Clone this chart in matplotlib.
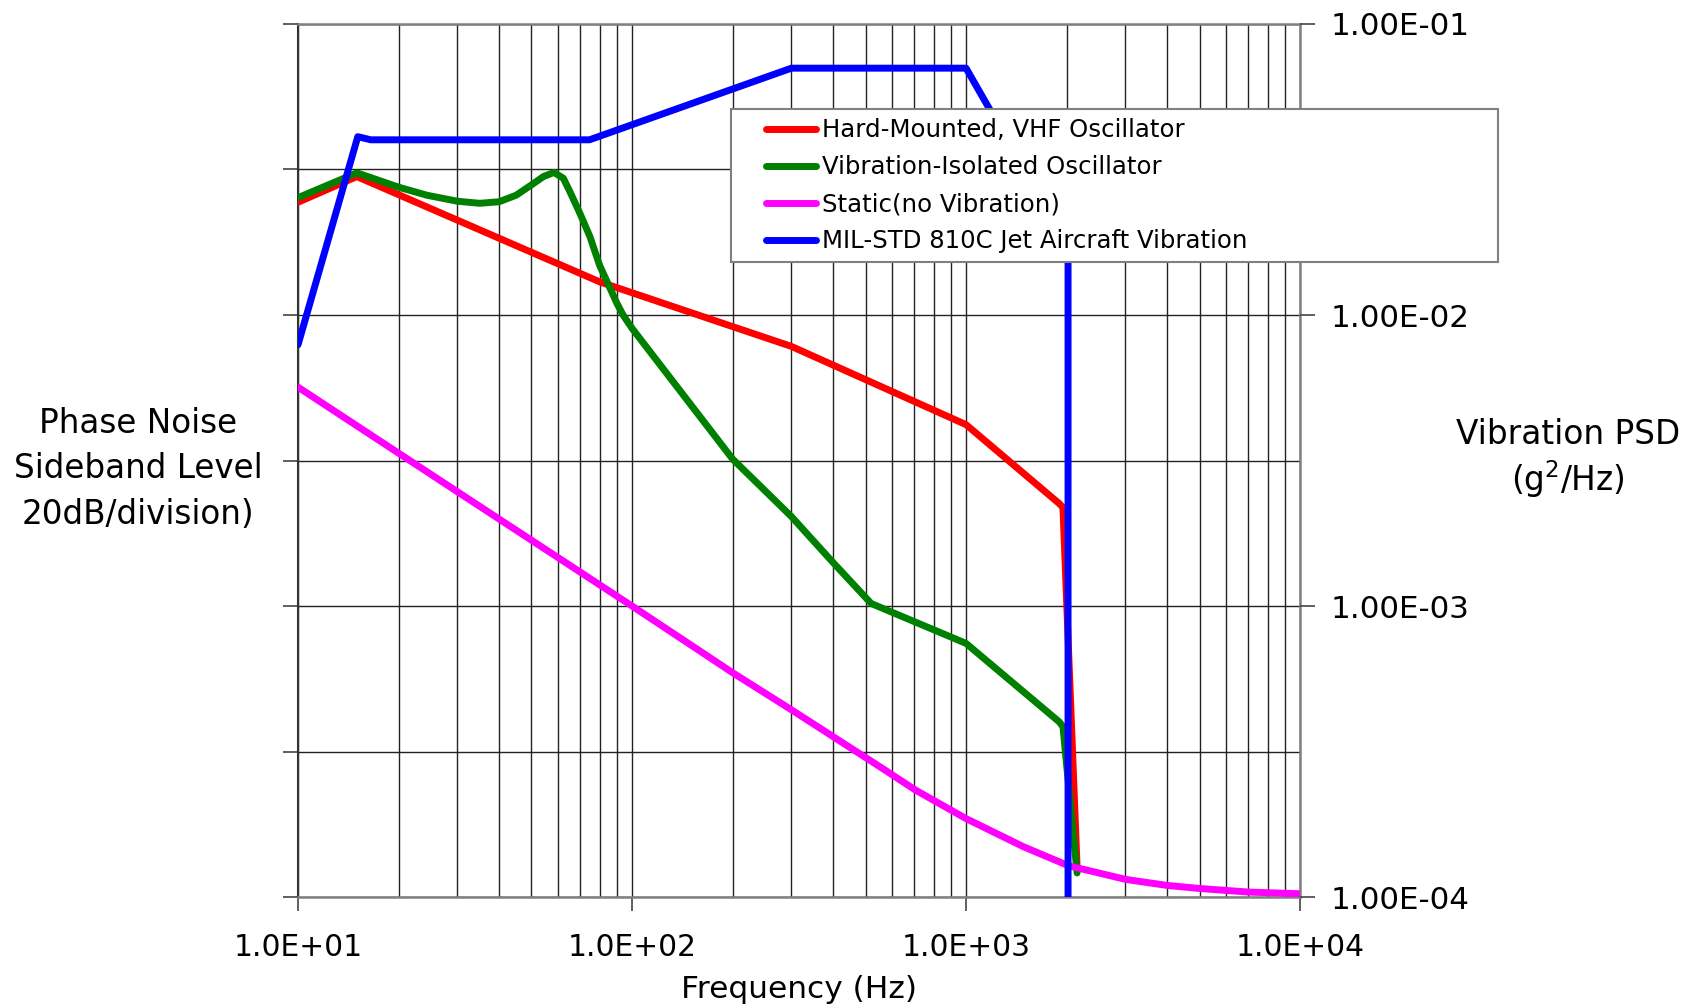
import matplotlib
matplotlib.use("Agg")
import matplotlib.pyplot as plt
import numpy as np
from matplotlib.lines import Line2D
from matplotlib.legend_handler import HandlerLine2D
from matplotlib.ticker import FixedLocator, NullLocator

# ---- data ----
# Hard-Mounted, VHF Oscillator
freq_hard = [10, 15, 80, 300, 1000, 1900, 1950, 2150]
level_hard = [0.0244, 0.0299, 0.0130, 0.0078, 0.0042, 0.00225, 0.00218, 0.000127]

# Vibration-Isolated Oscillator
freq_iso = [10, 15, 20, 24.3, 30, 35, 40, 45, 50, 54.3, 58.4, 62.3, 65.5, 70, 74.8,
            80, 90, 94, 100, 200, 300, 400, 520, 1000, 1900, 1950, 2150]
level_iso = [0.0253, 0.0308, 0.0275, 0.0258, 0.0246, 0.0242, 0.0245, 0.0258, 0.0280,
             0.0299, 0.0309, 0.0295, 0.0262, 0.0222, 0.0186, 0.0148, 0.0110, 0.0100,
             0.0090, 0.0032, 0.00203, 0.00141, 0.00102, 0.000744, 0.000400, 0.000385,
             0.000121]

# Static (no vibration)
freq_static = [10, 30, 100, 200, 300, 553, 706, 1000, 1483, 2030, 3000, 4000, 5000, 7000, 10000]
level_static = [5.65e-3, 2.47e-3, 1.0e-3, 5.9e-4, 4.4e-4, 2.8e-4, 2.33e-4, 1.86e-4, 1.49e-4,
                1.28e-4, 1.15e-4, 1.096e-4, 1.07e-4, 1.04e-4, 1.026e-4]

# MIL-STD 810C jet aircraft vibration profile
freq_mil = [10, 15.1, 16.5, 74.6, 300, 1000, 2020, 2020]
level_mil = [7.9e-3, 0.0410, 0.0400, 0.0400, 0.0705, 0.0705, 0.0173, 1e-6]

series_labels = [
    "Hard-Mounted, VHF Oscillator",
    "Vibration-Isolated Oscillator",
    "Static(no Vibration)",
    "MIL-STD 810C Jet Aircraft Vibration",
]
series_colors = ["#FF0000", "#008000", "#FF00FF", "#0000FF"]

x_ticks = [10, 100, 1000, 10000]
x_tick_labels = ["1.0E+01", "1.0E+02", "1.0E+03", "1.0E+04"]
y_ticks_right = [1e-4, 1e-3, 1e-2, 1e-1]
y_tick_labels_right = ["1.00E-04", "1.00E-03", "1.00E-02", "1.00E-01"]

plt.rcParams["font.family"] = "DejaVu Sans"

fig = plt.figure(figsize=(16.99, 10.08), dpi=100)
ax = fig.add_axes([0.1754, 0.1101, 0.5898, 0.8661])

all_series = [
    (freq_hard, level_hard),
    (freq_iso, level_iso),
    (freq_static, level_static),
    (freq_mil, level_mil),
]
LW = 5.0
handles = []
for (f, v), lab, col in zip(all_series, series_labels, series_colors):
    (ln,) = ax.plot(f, v, color=col, lw=LW, label=lab,
                    solid_capstyle="round", solid_joinstyle="round", zorder=3)
    handles.append(ln)

ax.set_xscale("log")
ax.set_yscale("log")
ax.set_xlim(10, 10000)
ax.set_ylim(1e-4, 1e-1)

# x axis: decade labels, grid at every 1..9 multiple
ax.xaxis.set_major_locator(FixedLocator(x_ticks))
ax.set_xticklabels(x_tick_labels)
minor_x = [m * 10.0 ** e for e in range(1, 4) for m in range(2, 10)]
ax.xaxis.set_minor_locator(FixedLocator(minor_x))
ax.tick_params(axis="x", which="major", direction="out", length=10, width=1.2,
               labelsize=21.4, pad=16, color="#444444")
ax.tick_params(axis="x", which="minor", length=0)

# left axis: ticks at every half decade, no labels
half_decades = list(10.0 ** np.arange(-4, -0.99, 0.5))
ax.yaxis.set_major_locator(FixedLocator(half_decades))
ax.yaxis.set_minor_locator(NullLocator())
ax.tick_params(axis="y", which="major", direction="out", length=11, width=1.2,
               labelleft=False, color="#444444")

ax.grid(True, axis="x", which="both", color="#222222", lw=1.0, zorder=0)
ax.grid(True, axis="y", which="major", color="#222222", lw=1.0, zorder=0)

for side in ["top", "bottom", "right"]:
    ax.spines[side].set_color("#808080")
    ax.spines[side].set_linewidth(1.8)
ax.spines["left"].set_color("#333333")
ax.spines["left"].set_linewidth(1.5)

# right axis: PSD decade labels
ax2 = ax.twinx()
ax2.set_yscale("log")
ax2.set_ylim(1e-4, 1e-1)
ax2.yaxis.set_major_locator(FixedLocator(y_ticks_right))
ax2.set_yticklabels(y_tick_labels_right)
ax2.yaxis.set_minor_locator(NullLocator())
ax2.tick_params(axis="y", which="major", direction="out", length=11, width=1.2,
                labelsize=22.3, pad=11, color="#444444")
for s in ax2.spines.values():
    s.set_visible(False)

ax.set_xlabel("Frequency (Hz)", fontsize=22.5, labelpad=9)

fig.text(138 / 1699, 1 - 469 / 1008, "Phase Noise\nSideband Level\n20dB/division)",
         ha="center", va="center", multialignment="center", fontsize=23.5,
         linespacing=1.48)
fig.text(1568 / 1699, 1 - 459 / 1008, "Vibration PSD\n(g$^{2}$/Hz)",
         ha="center", va="center", multialignment="center", fontsize=23.6,
         linespacing=1.2)

leg = fig.legend(handles=handles, labels=series_labels, loc="upper left",
                 bbox_to_anchor=(731 / 1699, 0.3, 767 / 1699, 1 - 109 / 1008 - 0.3),
                 mode="expand", borderaxespad=0, fontsize=17.6, frameon=True,
                 fancybox=False, framealpha=1, edgecolor="#808080",
                 borderpad=0.38, labelspacing=0.53, handlelength=3.1,
                 handletextpad=0.25, handleheight=0.7,
                 handler_map={Line2D: HandlerLine2D(xpad=1.05)})
leg.get_frame().set_linewidth(1.5)
for lh in leg.get_lines():
    lh.set_linewidth(LW)

fig.savefig("out.png", dpi=100)
